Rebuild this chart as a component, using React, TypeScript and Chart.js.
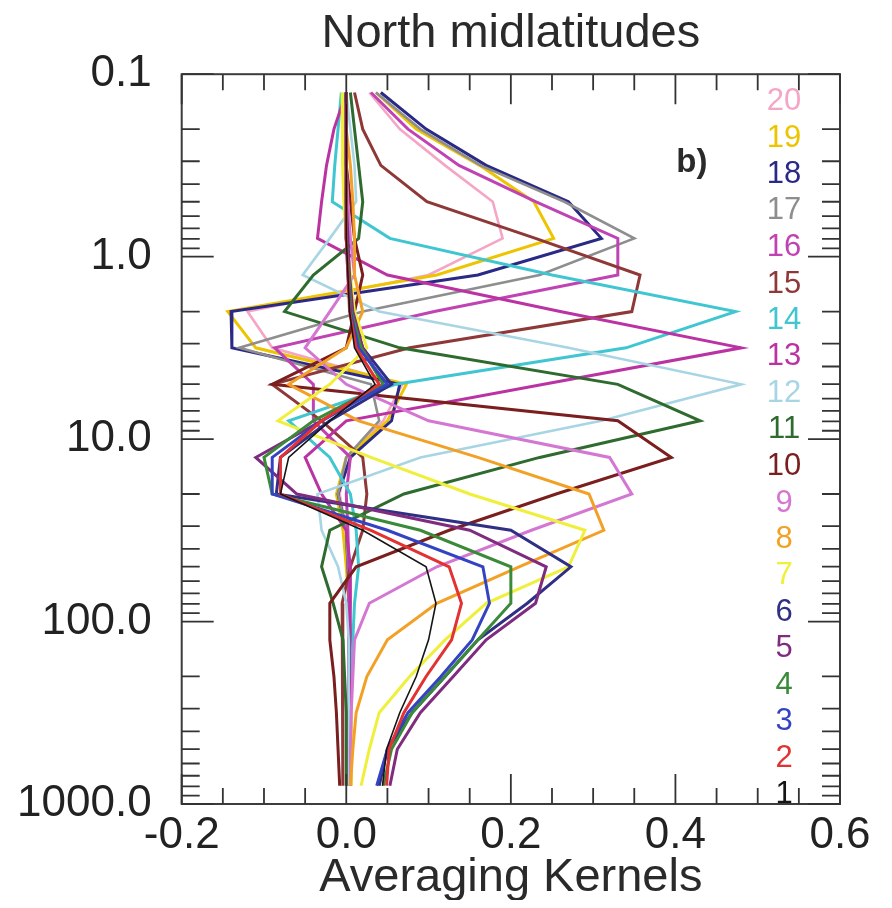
import React, { useEffect, useRef } from "react";
import { Chart, registerables } from "chart.js";

Chart.register(...registerables);

// Retrieval pressure levels (hPa), listed from the top of the profile downwards
const pressureLevels = [
  0.126, 0.2, 0.316, 0.5, 0.794, 1.26, 2.0, 3.16, 5.01, 7.94,
  12.6, 20.0, 31.6, 50.1, 79.4, 126, 200, 316, 501, 794,
];

// Averaging kernel rows, one value per pressure level (same order as above)
const kernel1 = [0.0, 0.0, 0.0, 0.0, 0.0, 0.002, 0.004, 0.01, 0.035, -0.02, -0.07, -0.08, 0.02, 0.097, 0.109, 0.1, 0.085, 0.065, 0.049, 0.044];
const kernel2 = [0.0, 0.0, 0.0, 0.0, 0.0, 0.002, 0.004, 0.012, 0.04, -0.03, -0.08, -0.08, 0.03, 0.125, 0.14, 0.128, 0.097, 0.07, 0.052, 0.049];
const kernel3 = [0.0, 0.0, 0.0, 0.0, 0.0, 0.002, 0.005, 0.015, 0.05, -0.03, -0.09, -0.09, 0.05, 0.166, 0.174, 0.153, 0.115, 0.075, 0.05, 0.037];
const kernel4 = [0.0, 0.0, 0.0, 0.0, 0.0, 0.003, 0.006, 0.018, 0.045, -0.04, -0.1, -0.09, 0.09, 0.2, 0.2, 0.16, 0.12, 0.08, 0.055, 0.045];
const kernel5 = [0.0, 0.0, 0.0, 0.0, 0.002, 0.004, 0.008, 0.02, 0.045, -0.03, -0.11, -0.06, 0.15, 0.243, 0.23, 0.17, 0.13, 0.09, 0.062, 0.053];
const kernel6 = [0.0, 0.0, 0.0, 0.0, 0.0, 0.003, 0.005, 0.02, 0.055, -0.02, -0.08, -0.085, 0.2, 0.273, 0.22, 0.16, 0.12, 0.08, 0.05, 0.04];
const kernel7 = [-0.005, -0.005, -0.004, -0.003, 0.0, 0.005, 0.01, 0.025, -0.02, -0.083, 0.03, 0.15, 0.29, 0.27, 0.17, 0.12, 0.077, 0.04, 0.028, 0.018];
const kernel8 = [0.0, 0.0, 0.005, 0.008, 0.01, 0.01, 0.02, 0.0, -0.07, 0.015, 0.16, 0.295, 0.313, 0.21, 0.11, 0.05, 0.025, 0.012, 0.008, 0.005];
const kernel9 = [0.0, 0.0, 0.0, 0.002, 0.005, 0.01, -0.02, -0.05, 0.0, 0.1, 0.32, 0.347, 0.225, 0.11, 0.028, 0.01, 0.008, 0.006, 0.005, 0.005];
const kernel10 = [0.0, 0.0, 0.0, 0.005, 0.01, 0.02, 0.01, 0.0, -0.09, 0.33, 0.395, 0.255, 0.125, 0.012, -0.02, -0.02, -0.015, -0.012, -0.01, -0.008];
const kernel11 = [0.005, 0.01, 0.015, 0.02, 0.015, -0.04, -0.075, 0.065, 0.33, 0.43, 0.235, 0.07, -0.02, -0.03, -0.016, -0.004, -0.002, 0.0, 0.0, 0.0];
const kernel12 = [0.0, 0.005, 0.01, 0.012, -0.02, -0.053, 0.04, 0.27, 0.48, 0.31, 0.09, -0.035, -0.03, -0.01, 0.0, 0.003, 0.003, 0.003, 0.003, 0.003];
const kernel13 = [0.0, -0.015, -0.024, -0.03, -0.035, 0.05, 0.26, 0.48, 0.24, 0.0, -0.05, -0.03, 0.0, 0.005, 0.005, 0.004, 0.004, 0.004, 0.004, 0.004];
const kernel14 = [-0.006, -0.01, -0.014, -0.017, 0.053, 0.25, 0.473, 0.34, 0.06, -0.07, -0.02, 0.005, 0.012, 0.015, 0.01, 0.008, 0.006, 0.005, 0.005, 0.005];
const kernel15 = [0.01, 0.02, 0.042, 0.098, 0.23, 0.357, 0.347, 0.077, -0.09, -0.03, 0.02, 0.025, 0.02, 0.005, -0.005, -0.005, -0.004, -0.004, -0.004, -0.004];
const kernel16 = [0.03, 0.075, 0.137, 0.23, 0.33, 0.33, 0.107, -0.087, -0.04, -0.04, 0.005, 0.0, 0.002, 0.003, 0.003, 0.003, 0.003, 0.003, 0.003, 0.003];
const kernel17 = [0.036, 0.09, 0.163, 0.265, 0.35, 0.235, 0.02, -0.13, 0.03, 0.04, 0.0, -0.01, 0.0, 0.002, 0.003, 0.003, 0.003, 0.003, 0.003, 0.003];
const kernel18 = [0.042, 0.097, 0.17, 0.27, 0.31, 0.16, -0.14, -0.139, 0.065, 0.055, 0.005, -0.01, 0.0, 0.002, 0.004, 0.005, 0.005, 0.005, 0.005, 0.005];
const kernel19 = [0.036, 0.085, 0.162, 0.228, 0.252, 0.11, -0.144, -0.11, 0.073, 0.05, 0.0, -0.012, -0.004, 0.0, 0.003, 0.005, 0.006, 0.006, 0.006, 0.006];
const kernel20 = [0.028, 0.065, 0.12, 0.178, 0.19, 0.1, -0.12, -0.09, 0.068, 0.045, 0.0, -0.008, 0.0, 0.003, 0.004, 0.004, 0.004, 0.004, 0.004, 0.004];

const kernels = [
  kernel1, kernel2, kernel3, kernel4, kernel5, kernel6, kernel7, kernel8, kernel9, kernel10,
  kernel11, kernel12, kernel13, kernel14, kernel15, kernel16, kernel17, kernel18, kernel19, kernel20,
];
const kernelNames = [
  "1", "2", "3", "4", "5", "6", "7", "8", "9", "10",
  "11", "12", "13", "14", "15", "16", "17", "18", "19", "20",
];
const kernelColors = [
  "#151515", "#e23232", "#3343c2", "#3a8a3a", "#7f2c80", "#2f2f84", "#f0ef3c", "#f2a126", "#d477d2", "#7a1e1e",
  "#2f6b2f", "#a8d5e4", "#bb33a2", "#3fc6d0", "#8f3838", "#c043b4", "#8e8e8e", "#2a2a86", "#edc400", "#f5a6c6",
];

const xTickValues = [-0.2, 0.0, 0.2, 0.4, 0.6];
const yTickValues = [0.1, 1, 10, 100, 1000];

const titleText = "North midlatitudes";
const xTitleText = "Averaging Kernels";
const panelTag = "b)";

const FONT = '"Liberation Sans", Arial, Helvetica, sans-serif';

const decorations = {
  id: "decorations",
  afterDraw(chart: any) {
    const { ctx, chartArea: a, scales } = chart;
    const xs = scales.x;
    const ys = scales.y;
    ctx.save();

    // frame
    ctx.strokeStyle = "#3c3c3c";
    ctx.lineWidth = 2;
    ctx.strokeRect(a.left, a.top, a.right - a.left, a.bottom - a.top);

    // inward tick marks on all four sides
    ctx.lineWidth = 1.8;
    ctx.strokeStyle = "#333";
    ctx.beginPath();
    for (let i = -4; i <= 12; i++) {
      const px = xs.getPixelForValue(i * 0.05);
      const len = i % 4 === 0 ? 30 : 16;
      ctx.moveTo(px, a.bottom);
      ctx.lineTo(px, a.bottom - len);
      ctx.moveTo(px, a.top);
      ctx.lineTo(px, a.top + len);
    }
    for (let d = -1; d <= 3; d++) {
      for (let m = 1; m <= 9; m++) {
        const v = m * Math.pow(10, d);
        if (v > 1000.001) break;
        const py = ys.getPixelForValue(v);
        const len = m === 1 ? 32 : 18;
        ctx.moveTo(a.left, py);
        ctx.lineTo(a.left + len, py);
        ctx.moveTo(a.right, py);
        ctx.lineTo(a.right - len, py);
      }
    }
    ctx.stroke();

    // titles
    ctx.fillStyle = "#2a2a2a";
    ctx.textAlign = "center";
    ctx.textBaseline = "alphabetic";
    ctx.font = `47px ${FONT}`;
    const cx = (a.left + a.right) / 2;
    ctx.fillText(titleText, cx, 39);
    ctx.fillText(xTitleText, cx, 883);

    // panel tag
    ctx.font = `bold 33px ${FONT}`;
    ctx.textBaseline = "middle";
    ctx.fillText(panelTag, xs.getPixelForValue(0.42), ys.getPixelForValue(0.307));

    // kernel numbers beside their levels
    ctx.font = `31px ${FONT}`;
    const lx = xs.getPixelForValue(0.532);
    kernelNames.forEach((name, i) => {
      const lvl = pressureLevels[pressureLevels.length - 1 - i];
      ctx.fillStyle = kernelColors[i];
      ctx.fillText(name, lx, ys.getPixelForValue(lvl) + 9);
    });

    ctx.restore();
  },
};

export default function App() {
  const canvasRef = useRef<HTMLCanvasElement | null>(null);

  useEffect(() => {
    const canvas = canvasRef.current;
    if (!canvas) return;

    const datasets = kernels.map((vals, i) => ({
      label: kernelNames[i],
      data: vals.map((v, j) => ({ x: v, y: pressureLevels[j] })),
      borderColor: kernelColors[i],
      backgroundColor: kernelColors[i],
      borderWidth: i === 0 ? 1.6 : i === 11 || i === 19 || i === 16 ? 2.6 : 3,
      showLine: true,
      pointRadius: 0,
      fill: false,
      tension: 0,
    }));

    const tickFont = { family: FONT, size: 44 };

    const chart = new Chart(canvas, {
      type: "scatter",
      data: { datasets },
      options: {
        animation: false,
        responsive: false,
        layout: { padding: { left: 0, right: 44, top: 66.2, bottom: 0 } },
        plugins: {
          legend: { display: false },
          tooltip: { enabled: false },
          title: { display: false },
        },
        scales: {
          x: {
            type: "linear",
            min: -0.2,
            max: 0.6,
            grid: { display: false },
            border: { display: false },
            afterBuildTicks: (s: any) => {
              s.ticks = xTickValues.map((v) => ({ value: v }));
            },
            afterFit: (s: any) => {
              s.height = 96;
            },
            ticks: {
              autoSkip: false,
              maxRotation: 0,
              padding: -3,
              color: "#222",
              font: tickFont,
              callback: (v: any) => Number(v).toFixed(1),
            },
          },
          y: {
            type: "logarithmic",
            reverse: true,
            min: 0.1,
            max: 1000,
            grid: { display: false },
            border: { display: false },
            afterBuildTicks: (s: any) => {
              s.ticks = yTickValues.map((v) => ({ value: v }));
            },
            afterFit: (s: any) => {
              s.width = 173.7;
            },
            ticks: {
              autoSkip: false,
              padding: 22,
              color: "#222",
              font: tickFont,
              callback: (v: any) => Number(v).toFixed(1),
            },
          },
        },
      },
      plugins: [decorations],
    } as any);

    return () => chart.destroy();
  }, []);

  return (
    <div style={{ width: 876, height: 892 }}>
      <canvas ref={canvasRef} width={876} height={892} style={{ display: "block" }} />
    </div>
  );
}
